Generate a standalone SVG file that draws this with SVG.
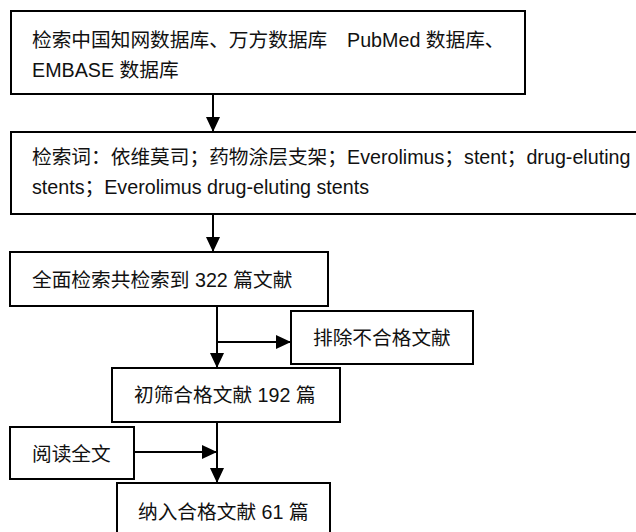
<svg xmlns="http://www.w3.org/2000/svg" width="636" height="532" viewBox="0 0 636 532">
<style>
.box{fill:#fff;stroke:#000;stroke-width:2}
.t{font-family:"Liberation Sans","Noto Sans CJK SC",sans-serif;font-size:19.7px;fill:#111}
.c{stroke:#000;stroke-width:2;fill:none}
</style>
<defs>
<marker id="ah" markerUnits="userSpaceOnUse" markerWidth="15" markerHeight="14" refX="15" refY="7" orient="auto">
<path d="M0,0 L15,7 L0,14 Z" fill="#000"/>
</marker>
</defs>
<rect width="636" height="532" fill="#fff"/>
<g id="connectors">
<line class="c" x1="213" y1="94" x2="213" y2="132" marker-end="url(#ah)"/>
<line class="c" x1="213" y1="214" x2="213" y2="252" marker-end="url(#ah)"/>
<line class="c" x1="217" y1="306" x2="217" y2="368" marker-end="url(#ah)"/>
<line class="c" x1="217" y1="342" x2="291" y2="342" marker-end="url(#ah)"/>
<line class="c" x1="217" y1="422" x2="217" y2="483" marker-end="url(#ah)"/>
<line class="c" x1="134" y1="452" x2="217" y2="452" marker-end="url(#ah)"/>
</g>
<g id="n1">
<rect class="box" x="11" y="11" width="514" height="83"/>
<text class="t" x="32" y="47">检索中国知网数据库、万方数据库　PubMed 数据库、</text>
<text class="t" x="32" y="77">EMBASE 数据库</text>
</g>
<g id="n2">
<rect class="box" x="11" y="132" width="630" height="82"/>
<text class="t" x="32" y="164">检索词：依维莫司；药物涂层支架；Everolimus；stent；drug-eluting</text>
<text class="t" x="32" y="194">stents；Everolimus drug-eluting stents</text>
</g>
<g id="n3">
<rect class="box" x="10" y="252" width="318" height="54"/>
<text class="t" x="32" y="287">全面检索共检索到 322 篇文献</text>
</g>
<g id="n4">
<rect class="box" x="291" y="311" width="182" height="53"/>
<text class="t" x="313" y="345">排除不合格文献</text>
</g>
<g id="n5">
<rect class="box" x="112" y="368" width="228" height="54"/>
<text class="t" x="134" y="402">初筛合格文献 192 篇</text>
</g>
<g id="n6">
<rect class="box" x="10" y="427" width="124" height="52"/>
<text class="t" x="32" y="461">阅读全文</text>
</g>
<g id="n7">
<rect class="box" x="117" y="483" width="213" height="60"/>
<text class="t" x="138" y="519">纳入合格文献 61 篇</text>
</g>
</svg>
